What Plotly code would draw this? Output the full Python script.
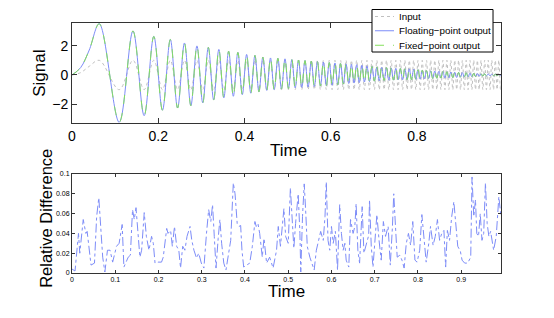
import plotly.graph_objects as go

# ---------------- data ----------------
t_signal = [
    0.0, 0.02, 0.04,
    0.0632, 0.1095, 0.1414, 0.1673, 0.1897, 0.2098, 0.2280, 0.2449, 0.2608, 0.2757,
    0.2898, 0.3033, 0.3162, 0.3286, 0.3406, 0.3521, 0.3633, 0.3742, 0.3847, 0.3950,
    0.4050, 0.4147, 0.4243, 0.4336, 0.4427, 0.4517, 0.4604, 0.4690, 0.4775, 0.4858,
    0.4940, 0.5020, 0.5099, 0.5177, 0.5254, 0.5329, 0.5404, 0.5477, 0.5550, 0.5621,
    0.5692, 0.5762, 0.5831, 0.5899, 0.5967, 0.6033, 0.6099, 0.6164, 0.6229, 0.6293,
    0.6356, 0.6419, 0.6481, 0.6542, 0.6603, 0.6663, 0.6723, 0.6782, 0.6841, 0.6899,
    0.6957, 0.7014, 0.7071, 0.7127, 0.7183, 0.7239, 0.7294, 0.7348, 0.7403, 0.7456,
    0.7510, 0.7563, 0.7616, 0.7668, 0.7720, 0.7772, 0.7823, 0.7874, 0.7925, 0.7975,
    0.8025, 0.8075, 0.8124, 0.8173, 0.8222, 0.8270, 0.8319, 0.8367, 0.8414, 0.8462,
    0.8509, 0.8556, 0.8602, 0.8649, 0.8695, 0.8741, 0.8786, 0.8832, 0.8877, 0.8922,
    0.8967, 0.9011, 0.9055, 0.9099, 0.9143, 0.9187, 0.9230, 0.9274, 0.9317, 0.9359,
    0.9402, 0.9444, 0.9487, 0.9529, 0.9571, 0.9612, 0.9654, 0.9695, 0.9736, 0.9777,
    0.9818, 0.9859, 0.9899, 0.9940, 0.9980,
]

input_signal = [
    0.0, 0.16, 0.59,
    1, -1, 1, -1, 1, -1, 1, -1, 1, -1,
    1, -1, 1, -1, 1, -1, 1, -1, 1, -1,
    1, -1, 1, -1, 1, -1, 1, -1, 1, -1,
    1, -1, 1, -1, 1, -1, 1, -1, 1, -1,
    1, -1, 1, -1, 1, -1, 1, -1, 1, -1,
    1, -1, 1, -1, 1, -1, 1, -1, 1, -1,
    1, -1, 1, -1, 1, -1, 1, -1, 1, -1,
    1, -1, 1, -1, 1, -1, 1, -1, 1, -1,
    1, -1, 1, -1, 1, -1, 1, -1, 1, -1,
    1, -1, 1, -1, 1, -1, 1, -1, 1, -1,
    1, -1, 1, -1, 1, -1, 1, -1, 1, -1,
    1, -1, 1, -1, 1, -1, 1, -1, 1, -1,
    1, -1, 1, -1, 1,
]

floating_output = [
    0.0, 0.5, 1.7,
    3.49, -3.22, 3.00, -2.77, 2.63, -2.40, 2.42, -2.25, 2.18, -2.09,
    1.98, -1.90, 1.88, -1.70, 1.74, -1.56, 1.62, -1.45, 1.54, -1.34,
    1.40, -1.24, 1.34, -1.15, 1.22, -1.05, 1.16, -1.00, 1.14, -0.96,
    1.10, -0.92, 1.05, -0.88, 1.02, -0.85, 0.98, -0.82, 0.95, -0.78,
    0.92, -0.75, 0.88, -0.72, 0.85, -0.70, 0.82, -0.66, 0.78, -0.62,
    0.75, -0.58, 0.72, -0.55, 0.70, -0.52, 0.66, -0.48, 0.62, -0.45,
    0.58, -0.42, 0.55, -0.40, 0.52, -0.38, 0.50, -0.36, 0.48, -0.35,
    0.46, -0.34, 0.44, -0.33, 0.42, -0.32, 0.42, -0.32, 0.40, -0.30,
    0.36, -0.28, 0.32, -0.26, 0.30, -0.25, 0.28, -0.24, 0.27, -0.22,
    0.25, -0.21, 0.24, -0.20, 0.22, -0.19, 0.20, -0.18, 0.19, -0.17,
    0.18, -0.15, 0.16, -0.14, 0.15, -0.13, 0.13, -0.12, 0.12, -0.11,
    0.10, -0.09, 0.09, -0.08, 0.08, -0.07, 0.07, -0.06, 0.06, -0.05,
    0.05, -0.04, 0.04, -0.03, 0.03,
]

fixed_output = floating_output  # indistinguishable from floating-point in the picture

t_diff = [
    0.000, 0.007, 0.015, 0.018, 0.026, 0.032, 0.035, 0.040, 0.044, 0.052,
    0.057, 0.062, 0.066, 0.071, 0.076, 0.082, 0.088, 0.094, 0.103, 0.109,
    0.116, 0.120, 0.130, 0.135, 0.140, 0.144, 0.148, 0.152, 0.157, 0.161,
    0.167, 0.172, 0.178, 0.184, 0.188, 0.192, 0.199, 0.207, 0.211, 0.219,
    0.222, 0.228, 0.232, 0.237, 0.242, 0.247, 0.251, 0.256, 0.261, 0.266,
    0.273, 0.277, 0.282, 0.288, 0.293, 0.299, 0.305, 0.311, 0.316, 0.321,
    0.325, 0.329, 0.333, 0.338, 0.342, 0.346, 0.351, 0.356, 0.361, 0.367,
    0.373, 0.377, 0.382, 0.386, 0.390, 0.393, 0.397, 0.403, 0.411, 0.417,
    0.423, 0.426, 0.430, 0.434, 0.440, 0.444, 0.450,
    0.457, 0.465, 0.473, 0.477, 0.482, 0.490, 0.494, 0.500, 0.505, 0.509,
    0.513, 0.517, 0.523, 0.527, 0.529, 0.533, 0.537, 0.541, 0.544, 0.550,
    0.555, 0.560, 0.565, 0.571, 0.575, 0.581, 0.585, 0.588, 0.592, 0.596,
    0.600, 0.604, 0.609, 0.614, 0.619, 0.623, 0.627, 0.631, 0.634, 0.640,
    0.644, 0.650, 0.654, 0.657, 0.661, 0.665, 0.671, 0.675, 0.681, 0.686,
    0.688, 0.692, 0.696, 0.701, 0.705, 0.710, 0.715, 0.720, 0.725, 0.731,
    0.736, 0.741, 0.744, 0.748, 0.752, 0.758, 0.763, 0.768, 0.773, 0.778,
    0.783, 0.788, 0.793, 0.798, 0.804, 0.809, 0.814, 0.819, 0.825, 0.829,
    0.835, 0.840, 0.845, 0.850, 0.855, 0.860, 0.864, 0.868, 0.873, 0.878,
    0.883, 0.887, 0.892, 0.898, 0.902, 0.908, 0.915, 0.922, 0.925, 0.929,
    0.933, 0.936, 0.940, 0.944, 0.948, 0.952, 0.956, 0.960, 0.964, 0.968,
    0.972, 0.975, 0.981, 0.987, 0.992,
]

relative_difference = [
    0.004, 0.002, 0.040, 0.020, 0.054, 0.040, 0.042, 0.023, 0.008, 0.010,
    0.057, 0.076, 0.050, 0.016, 0.001, 0.023, 0.023, 0.011, 0.027, 0.030,
    0.049, 0.006, 0.016, 0.018, 0.064, 0.054, 0.066, 0.040, 0.016, 0.023,
    0.061, 0.037, 0.023, 0.037, 0.030, 0.010, 0.011, 0.011, 0.016, 0.045,
    0.040, 0.043, 0.027, 0.047, 0.027, 0.023, 0.005, 0.027, 0.023, 0.037,
    0.047, 0.033, 0.023, 0.015, 0.020, 0.010, 0.005, 0.040, 0.064, 0.052,
    0.069, 0.037, 0.005, 0.035, 0.054, 0.030, 0.010, 0.003, 0.015, 0.033,
    0.091, 0.080, 0.050, 0.047, 0.048, 0.023, 0.006, 0.008, 0.010, 0.027,
    0.052, 0.047, 0.050, 0.040, 0.016, 0.035, 0.010,
    0.016, 0.005, 0.023, 0.047, 0.027, 0.065, 0.037, 0.030, 0.086, 0.048,
    0.025, 0.050, 0.080, 0.040, 0.001, 0.057, 0.090, 0.057, 0.027, 0.016,
    0.010, 0.003, 0.023, 0.035, 0.042, 0.033, 0.057, 0.092, 0.033, 0.023,
    0.047, 0.030, 0.042, 0.003, 0.069, 0.040, 0.023, 0.030, 0.013, 0.006,
    0.054, 0.040, 0.047, 0.070, 0.023, 0.010, 0.067, 0.020, 0.030, 0.038,
    0.074, 0.027, 0.006, 0.040, 0.059, 0.033, 0.013, 0.052, 0.037, 0.047,
    0.008, 0.047, 0.080, 0.047, 0.016, 0.018, 0.013, 0.005, 0.030, 0.040,
    0.028, 0.052, 0.013, 0.011, 0.023, 0.059, 0.033, 0.011, 0.030, 0.047,
    0.028, 0.037, 0.054, 0.033, 0.040, 0.043, 0.006, 0.043, 0.033, 0.057,
    0.072, 0.054, 0.027, 0.022, 0.013, 0.010, 0.010, 0.016, 0.097, 0.057,
    0.074, 0.040, 0.037, 0.060, 0.033, 0.040, 0.091, 0.050, 0.037, 0.042,
    0.030, 0.023, 0.037, 0.077, 0.057,
]

legend_names = ["Input", "Floating\u2212point output", "Fixed\u2212point output"]

# ---------------- styling ----------------
FONT = "Liberation Sans, Arial, Helvetica, sans-serif"
BLUE = "#7d8cf8"
GREEN = "#84e05c"
GRAY = "#c0c0c0"
AXC = "#333333"

series_styles = [
    dict(color=GRAY, dash="dot"),
    dict(color=BLUE, dash="solid"),
    dict(color=GREEN, dash="dash"),
]

fig = go.Figure()
for name, yvals, st in zip(legend_names, [input_signal, floating_output, fixed_output], series_styles):
    fig.add_trace(go.Scatter(x=t_signal, y=yvals, mode="lines", name=name, showlegend=False,
                             line=dict(color=st["color"], width=1, dash=st["dash"], shape="spline"),
                             xaxis="x", yaxis="y"))
fig.add_trace(go.Scatter(x=t_diff, y=relative_difference, mode="lines", showlegend=False,
                         line=dict(color=BLUE, width=1, dash="dashdot"),
                         xaxis="x2", yaxis="y2"))

common = dict(showgrid=False, zeroline=False, showline=True, linecolor=AXC, linewidth=1,
              mirror="ticks", ticks="inside", tickcolor=AXC)

# legend box drawn as shapes + text (paper coordinates of the plot area)
shapes = [dict(type="rect", xref="paper", yref="paper", x0=0.6993, x1=0.9814, y0=0.884, y1=1.054,
               line=dict(color="black", width=1), fillcolor="white", layer="above")]
annotations = []
rows_y = [1.026, 0.969, 0.911]
for name, st, ry in zip(legend_names, series_styles, rows_y):
    shapes.append(dict(type="line", xref="paper", yref="paper", x0=0.7063, x1=0.7506, y0=ry, y1=ry,
                       line=dict(color=st["color"], width=1, dash=st["dash"]), layer="above"))
    annotations.append(dict(text=name, xref="paper", yref="paper", x=0.758, y=ry,
                            xanchor="left", yanchor="middle", showarrow=False,
                            font=dict(size=9.8, family=FONT, color="black")))

annotations += [
    dict(text="Time", xref="paper", yref="paper", x=0.505, y=0.492,
         showarrow=False, font=dict(size=17), xanchor="center", yanchor="middle"),
    dict(text="Signal", xref="paper", yref="paper", x=-0.075, y=0.8, textangle=-90,
         showarrow=False, font=dict(size=17), xanchor="center", yanchor="middle"),
    dict(text="Time", xref="paper", yref="paper", x=0.5, y=-0.072,
         showarrow=False, font=dict(size=17), xanchor="center", yanchor="middle"),
    dict(text="Relative Difference", xref="paper", yref="paper", x=-0.061, y=0.22,
         textangle=-90, showarrow=False, font=dict(size=16.5),
         xanchor="center", yanchor="middle"),
]

# the page body adds an 8px offset, so the figure is 8px smaller and margins shifted
fig.update_layout(
    width=546, height=310,
    margin=dict(l=64, r=53, t=15, b=45, autoexpand=False),
    paper_bgcolor="white", plot_bgcolor="white",
    font=dict(family=FONT, color="black"),
    showlegend=False,
    xaxis=dict(domain=[0, 1], anchor="y", range=[0, 0.995],
               tickvals=[0, 0.2, 0.4, 0.6, 0.8], ticktext=["0", "0.2", "0.4", "0.6", "0.8"],
               ticklen=5, tickfont=dict(size=14), **common),
    yaxis=dict(domain=[0.6, 1.0], anchor="x", range=[-3.27, 3.54],
               tickvals=[-2, 0, 2], ticktext=["\u22122", "0", "2"],
               ticklen=5, tickfont=dict(size=14), **common),
    xaxis2=dict(domain=[0, 1], anchor="y2", range=[0, 0.992],
                tickvals=[0, 0.1, 0.2, 0.3, 0.4, 0.5, 0.6, 0.7, 0.8, 0.9],
                ticklen=3, tickfont=dict(size=7), **common),
    yaxis2=dict(domain=[0, 0.396], anchor="x2", range=[0, 0.1],
                tickvals=[0, 0.02, 0.04, 0.06, 0.08, 0.1],
                ticktext=["0", "0.02", "0.04", "0.06", "0.08", "0.1"],
                ticklen=3, tickfont=dict(size=7), **common),
    shapes=shapes,
    annotations=annotations,
)

fig.write_html("out.html")
